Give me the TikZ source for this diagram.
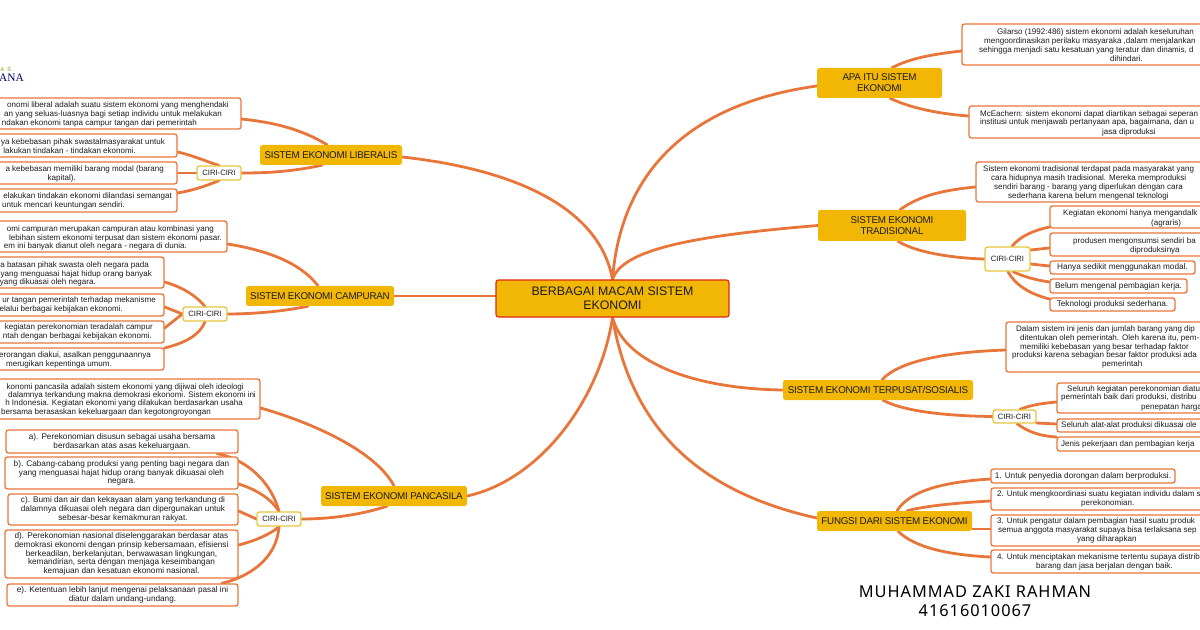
\documentclass[tikz,border=0pt]{standalone}
\usepackage{fontspec}
\setmainfont{Liberation Sans}
\newfontfamily\tightf[LetterSpace=-2.5]{Liberation Sans}
\newfontfamily\sigf[LetterSpace=6]{Noto Sans}
\newfontfamily\logof{Liberation Serif}
\usetikzlibrary{calc}
\pgfdeclarelayer{bg}
\pgfsetlayers{bg,main}
\definecolor{lnkc}{HTML}{E8763A}
\definecolor{mainc}{HTML}{F2B705}
\definecolor{redc}{HTML}{DE2B10}
\definecolor{ciric}{HTML}{E6C63C}
\definecolor{txtc}{HTML}{1C1C1C}
\tikzset{
 lnk/.style={draw=lnkc,line width=2.8bp,line cap=round},
 genbox/.style={rectangle,rounded corners=2.5bp,inner sep=0pt,align=center,text=txtc},
 leaf/.style={genbox,draw=lnkc,line width=1.3bp,fill=white,font=\fontsize{8.25}{8.9}\selectfont},
 topic/.style={genbox,fill=mainc,font=\tightf\fontsize{9.85}{11}\selectfont},
 rootbox/.style={genbox,fill=mainc,draw=redc,line width=1.1bp,font=\fontsize{12.4}{14}\selectfont},
 ciribox/.style={genbox,draw=ciric,line width=1.3bp,fill=white,font=\fontsize{7.7}{9}\selectfont},
 txtline/.style={inner sep=0pt,text=txtc,font=\fontsize{8.05}{8.9}\selectfont},
 sigline/.style={inner sep=0pt,text=black,font=\sigf\fontsize{16.4}{18}\selectfont},
}
\newcommand{\bx}[7][leaf]{\node[#1,minimum width={(#5-#3)*1bp},minimum height={(#6-#4)*1bp}] (#2) at ({(#3+#5)/2},{(#4+#6)/2}) {#7};}
\newcount\tlc
\newcommand{\tr}[3]{\global\advance\tlc by 1 \node[txtline,anchor=mid east] (t\the\tlc) at (#1,#2) {#3};}
\newcommand{\tw}[3]{\global\advance\tlc by 1 \node[txtline,anchor=mid west] (t\the\tlc) at (#1,#2) {#3};}
\newcommand{\lk}[4]{\draw[lnk] (#1) .. controls (#2) and (#3) .. (#4);}
\begin{document}
\begin{tikzpicture}[x=1bp,y=-1bp]
\useasboundingbox (0,0) rectangle (1200,630);
% logo
\node[inner sep=0pt,anchor=mid west,text=olive!70!green,font=\fontsize{5.5}{6}\selectfont] (logoa) at (0.5,69) {A\hspace{3bp}S};
\node[inner sep=0pt,anchor=mid east,text=blue!40!black,font=\logof\fontsize{11.4}{14}\selectfont] (logob) at (24,79) {ANA};
% root and topics
\bx[rootbox]{cn}{496}{280}{729}{317}{BERBAGAI MACAM SISTEM\\EKONOMI}
\bx[topic]{lib}{260}{145}{402}{165}{SISTEM EKONOMI LIBERALIS}
\bx[topic]{cam}{246}{286}{394}{306}{SISTEM EKONOMI CAMPURAN}
\bx[topic]{pan}{321}{486}{467}{506}{SISTEM EKONOMI PANCASILA}
\bx[topic]{apa}{817}{68}{942}{98}{APA ITU SISTEM\\EKONOMI}
\bx[topic]{tra}{818}{210}{966}{241}{SISTEM EKONOMI\\TRADISIONAL}
\bx[topic]{ter}{783}{380}{973}{400}{SISTEM EKONOMI TERPUSAT/SOSIALIS}
\bx[topic]{fun}{817}{511}{972}{531}{FUNGSI DARI SISTEM EKONOMI}
% ciri
\bx[ciribox]{c1}{197}{166}{241}{180}{CIRI-CIRI}
\bx[ciribox]{c2}{183}{307}{227}{321}{CIRI-CIRI}
\bx[ciribox]{c3}{257}{512}{301}{526}{CIRI-CIRI}
\bx[ciribox]{c4}{985}{247}{1030}{271}{CIRI-CIRI}
\bx[ciribox]{c5}{993}{410}{1036}{423}{CIRI-CIRI}
% liberal
\bx{la}{-20}{98}{241}{129}{}
\tr{229}{105}{onomi liberal adalah suatu sistem ekonomi yang menghendaki}
\tr{222}{114}{an yang seluas-luasnya bagi setiap individu untuk melakukan}
\tr{197}{123}{ndakan ekonomi tanpa campur tangan dari pemerintah}
\bx{lb}{-20}{134}{177}{157}{}
\tr{165}{142}{ya kebebasan pihak swastalmasyarakat untuk}
\tr{136}{151}{lakukan tindakan - tindakan ekonomi.}
\bx{lc}{-20}{162}{177}{184}{}
\tr{164}{169}{a kebebasan memiliki barang modal (barang}
\tr{76}{178}{kapital).}
\bx{ld}{-20}{189}{177}{212}{}
\tr{172}{196}{elakukan tindakan ekonomi dilandasi semangat}
\tr{125}{205}{untuk mencari keuntungan sendiri.}
% campuran
\bx{ma}{-20}{221}{227}{252}{}
\tr{214}{229}{omi campuran merupakan campuran atau kombinasi yang}
\tr{222}{238}{lebihan sistem ekonomi terpusat dan sistem ekonomi pasar.}
\tr{187}{246}{em ini banyak dianut oleh negara - negara di dunia.}
\bx{mb}{-20}{257}{164}{288}{}
\tr{149}{265}{a batasan pihak swasta oleh negara pada}
\tr{152}{274}{yang menguasai hajat hidup orang banyak}
\tr{96}{282}{yang dikuasai oleh negara.}
\bx{mc}{-20}{294}{164}{316}{}
\tr{156}{300}{ur tangan pemerintah terhadap mekanisme}
\tr{123}{309}{elalui berbagai kebijakan ekonomi.}
\bx{md}{-20}{321}{164}{343}{}
\tr{153}{327}{kegiatan perekonomian teradalah campur}
\tr{152}{336}{ntah dengan berbagai kebijakan ekonomi.}
\bx{me}{-20}{348}{164}{370}{}
\tr{151}{355}{erorangan diakui, asalkan penggunaannya}
\tr{112}{364}{merugikan kepentinga umum.}
% pancasila
\bx{pa}{-20}{379}{260}{419}{}
\tr{244}{387}{konomi pancasila adalah sistem ekonomi yang dijiwai oleh ideologi}
\tr{256}{395}{dalamnya terkandung makna demokrasi ekonomi. Sistem ekonomi ini}
\tr{243}{403}{h Indonesia. Kegiatan ekonomi yang dilakukan berdasarkan usaha}
\tr{211}{412}{bersama berasaskan kekeluargaan dan kegotongroyongan}
\bx{pb}{6}{430}{238}{453}{a). Perekonomian disusun sebagai usaha bersama\\berdasarkan atas asas kekeluargaan.}
\bx{pc}{5}{457}{238}{489}{b). Cabang-cabang produksi yang penting bagi negara dan\\yang menguasai hajat hidup orang banyak dikuasai oleh\\negara.}
\bx{pd}{8}{494}{238}{525}{c). Bumi dan air dan kekayaan alam yang terkandung di\\dalamnya dikuasai oleh negara dan dipergunakan untuk\\sebesar-besar kemakmuran rakyat.}
\bx{pe}{5}{530}{238}{578}{d). Perekonomian nasional diselenggarakan berdasar atas\\demokrasi ekonomi dengan prinsip kebersamaan, efisiensi\\berkeadilan, berkelanjutan, berwawasan lingkungan,\\kemandirian, serta dengan menjaga keseimbangan\\kemajuan dan kesatuan ekonomi nasional.}
\bx{pf}{7}{584}{238}{606}{e). Ketentuan lebih lanjut mengenai pelaksanaan pasal ini\\diatur dalam undang-undang.}
% apa itu
\bx{aa}{962}{24}{1220}{65}{}
\tw{997}{32}{Gilarso (1992:486) sistem ekonomi adalah keseluruhan}
\tw{984}{41}{mengoordinasikan perilaku masyaraka ,dalam menjalankan}
\tw{979}{50}{sehingga menjadi satu kesatuan yang teratur dan dinamis, d}
\tw{1110}{59}{dihindari.}
\bx{ab}{969}{106}{1220}{138}{}
\tw{980}{114}{McEachern: sistem ekonomi dapat diartikan sebagai seperan}
\tw{980}{122}{institusi untuk menjawab pertanyaan apa, bagaimana, dan u}
\tw{1102}{132}{jasa diproduksi}
% tradisional
\bx{ra}{976}{162}{1220}{202}{}
\tw{983}{169}{Sistem ekonomi tradisional terdapat pada masyarakat yang}
\tw{991}{178}{cara hidupnya masih tradisional. Mereka memproduksi}
\tw{994}{187}{sendiri barang - barang yang diperlukan dengan cara}
\tw{1008}{196}{sederhana karena belum mengenal teknologi}
\bx{rb}{1050}{206}{1220}{228}{}
\tw{1063}{213}{Kegiatan ekonomi hanya mengandalk}
\tw{1151}{223}{(agraris)}
\bx{rc}{1050}{233}{1220}{256}{}
\tw{1073}{241}{produsen mengonsumsi sendiri ba}
\tw{1130}{250}{diproduksinya}
\bx{rd}{1050}{261}{1195}{274}{Hanya sedikit menggunakan modal.}
\bx{re}{1050}{279}{1187}{293}{Belum mengenal pembagian kerja.}
\bx{rf}{1050}{298}{1175}{311}{Teknologi produksi sederhana.}
% terpusat
\bx{ta}{1006}{322}{1220}{372}{}
\tw{1016}{329}{Dalam sistem ini jenis dan jumlah barang yang dip}
\tw{1020}{338}{ditentukan oleh pemerintah. Oleh karena itu, pem-}
\tw{1020}{347}{memiliki kebebasan yang besar terhadap faktor}
\tw{1012}{355}{produksi karena sebagian besar faktor produksi ada}
\tw{1102}{364}{pemerintah}
\bx{tb}{1057}{383}{1220}{413}{}
\tw{1067}{389}{Seluruh kegiatan perekonomian diatu}
\tw{1061}{397}{pemerintah baik dari produksi, distribu}
\tw{1141}{407}{penepatan harga}
\bx{tc}{1057}{419}{1220}{432}{}
\tw{1061}{425}{Seluruh alat-alat produksi dikuasai ole}
\bx{td}{1057}{437}{1220}{451}{}
\tw{1061}{444}{Jenis pekerjaan dan pembagian kerja}
% fungsi
\bx{fa}{991}{469}{1175}{483}{1. Untuk penyedia dorongan dalam berproduksi.}
\bx{fb}{991}{488}{1220}{510}{}
\tw{997}{494}{2. Untuk mengkoordinasi suatu kegiatan individu dalam s}
\tw{1081}{503}{perekonomian.}
\bx{fc}{991}{515}{1220}{546}{}
\tw{997}{521}{3. Untuk pengatur dalam pembagian hasil suatu produk}
\tw{998}{530}{semua anggota masyarakat supaya bisa terlaksana sep}
\tw{1077}{539}{yang diharapkan}
\bx{fd}{991}{550}{1220}{573}{}
\tw{997}{557}{4. Untuk menciptakan mekanisme tertentu supaya distrib}
\tw{1036}{566}{barang dan jasa berjalan dengan baik.}
% signature
\node[sigline] (sa) at (975,592) {MUHAMMAD ZAKI RAHMAN};
\node[sigline] (sb) at (975,611) {41616010067};
\begin{pgfonlayer}{bg}
% root links
\lk{cn.north}{600,210}{520,170}{[shift={(0,2)}]lib.east}
\draw[lnk] ([shift={(0,-2.5)}]cn.west) -- (cam.east);
\lk{cn.south}{600,400}{540,480}{pan.east}
\lk{cn.south}{625,365}{700,389}{ter.west}
\lk{cn.south}{630,420}{690,490}{[shift={(0,-3)}]fun.west}
\lk{cn.north}{622,250}{690,236}{tra.west}
\lk{cn.north}{620,180}{680,105}{[shift={(0,3)}]apa.west}
% liberal
\lk{[shift={(-4,0)}]lib.north}{300,128}{270,122}{[shift={(0,5.5)}]la.east}
\lk{[shift={(-9,0)}]lib.south}{290,172}{265,173}{c1.east}
\lk{[shift={(0,6.5)}]lb.east}{195,156}{210,163}{c1.north}
\draw[lnk] (c1.west) -- (lc.east);
\lk{[shift={(0,-7.5)}]ld.east}{195,190}{208,185}{c1.south}
% campuran
\lk{[shift={(-2,0)}]cam.north}{300,262}{265,250}{[shift={(0,7.5)}]ma.east}
\lk{[shift={(-12,0)}]cam.south}{280,312}{250,314}{c2.east}
\lk{[shift={(0,9.5)}]mb.east}{185,288}{197,297}{c2.north}
\draw[lnk] ([shift={(0,2)}]mc.east) -- (c2.west);
\draw[lnk] ([shift={(0,-4)}]md.east) -- (c2.west);
\lk{[shift={(0,-11)}]me.east}{185,343}{200,335}{c2.south}
% pancasila
\lk{pan.north}{375,450}{310,422}{[shift={(0,9)}]pa.east}
\lk{[shift={(-7,0)}]pan.south}{360,515}{330,519}{c3.east}
\lk{[shift={(95,0)}]pb.south}{250,460}{272,485}{c3.north}
\lk{[shift={(0,11)}]pc.east}{258,490}{272,500}{c3.north}
\draw[lnk] ([shift={(0,1.5)}]pd.east) -- (c3.west);
\lk{[shift={(0,-9)}]pe.east}{258,540}{272,533}{c3.south}
\lk{[shift={(99.5,0)}]pf.north}{255,575}{277,555}{c3.south}
% apa
\lk{[shift={(12.5,0)}]apa.north}{910,58}{935,54}{[shift={(0,6.5)}]aa.west}
\lk{[shift={(10.5,0)}]apa.south}{910,108}{940,114}{[shift={(0,-6)}]ab.west}
% tradisional
\lk{[shift={(8,0)}]tra.north}{920,195}{945,190}{[shift={(0,5)}]ra.west}
\lk{[shift={(6,0)}]tra.south}{915,252}{950,258}{c4.west}
\lk{[shift={(4.5,0)}]c4.north}{1020,236}{1035,230}{[shift={(0,10)}]rb.west}
\draw[lnk] ([shift={(0,-9)}]c4.east) -- ([shift={(0,3.5)}]rc.west);
\draw[lnk] ([shift={(0,5)}]c4.east) -- ([shift={(0,-1.5)}]rd.west);
\lk{[shift={(5.5,0)}]c4.south}{1022,276}{1035,280}{[shift={(0,-4)}]re.west}
\lk{[shift={(0.5,0)}]c4.south}{1015,285}{1030,294}{[shift={(0,-5.5)}]rf.west}
% terpusat
\lk{[shift={(4,0)}]ter.north}{900,360}{950,352}{[shift={(0,3)}]ta.west}
\lk{[shift={(5,0)}]ter.south}{905,412}{950,416}{c5.west}
\lk{[shift={(5.5,0)}]c5.north}{1030,405}{1045,403}{[shift={(0,4)}]tb.west}
\draw[lnk] ([shift={(0,6.5)}]c5.east) -- ([shift={(0,-1.5)}]tc.west);
\lk{[shift={(2.5,0)}]c5.south}{1028,432}{1040,436}{[shift={(0,-7)}]td.west}
% fungsi
\lk{[shift={(2.5,0)}]fun.north}{910,490}{945,482}{[shift={(0,3)}]fa.west}
\lk{[shift={(12.5,0)}]fun.north}{925,506}{955,503}{[shift={(0,2)}]fb.west}
\draw[lnk] ([shift={(0,8)}]fun.east) -- ([shift={(0,-1.5)}]fc.west);
\lk{[shift={(3.5,0)}]fun.south}{915,548}{950,555}{[shift={(0,-4.5)}]fd.west}
\end{pgfonlayer}
\end{tikzpicture}
\end{document}
